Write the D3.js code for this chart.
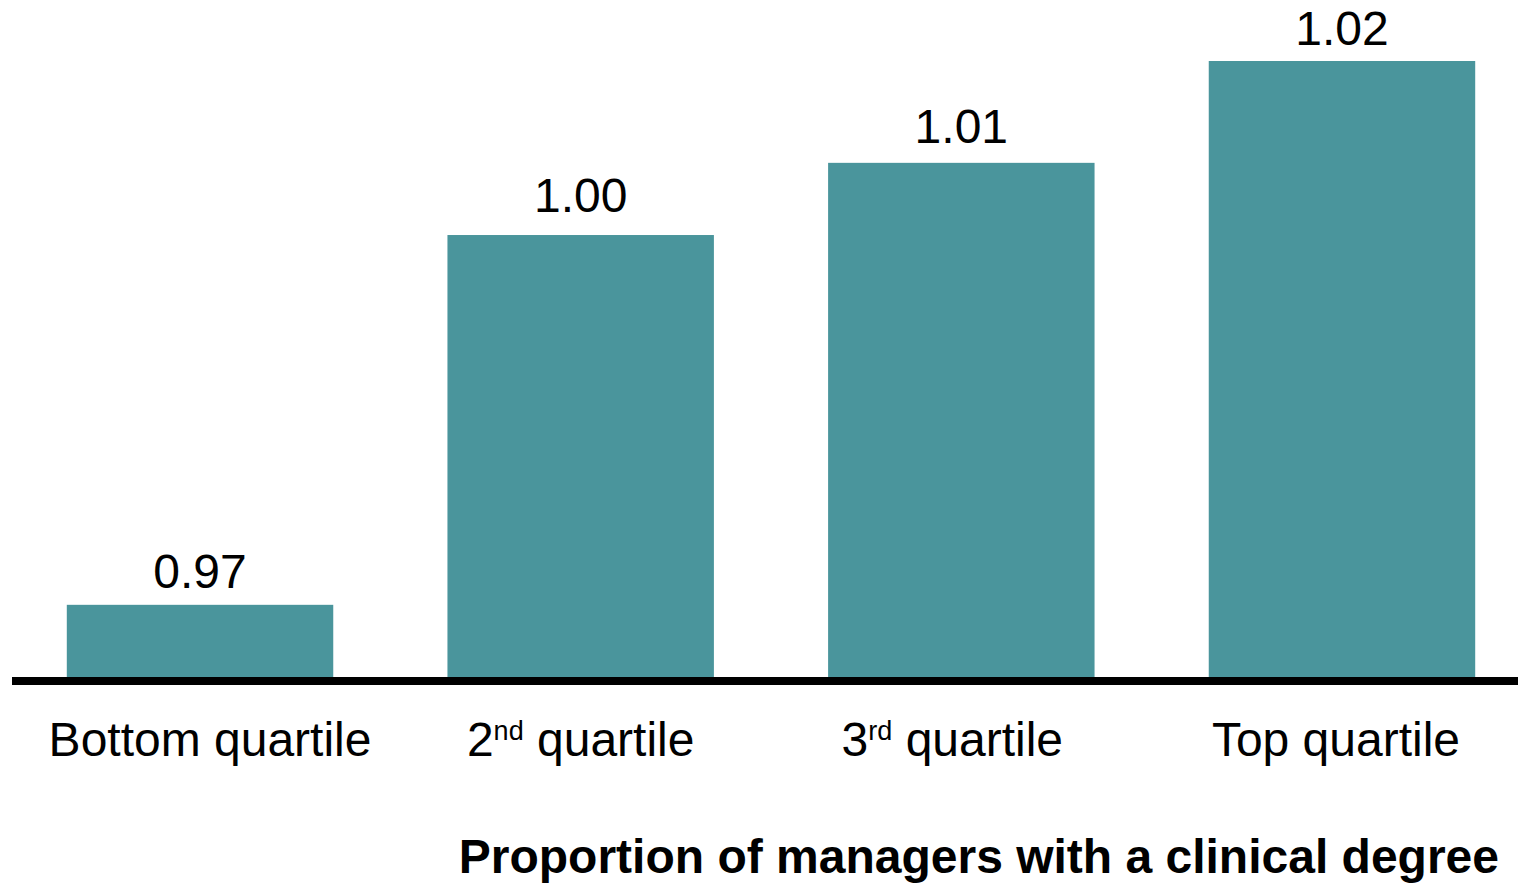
<!DOCTYPE html>
<html>
<head>
<meta charset="utf-8">
<script src="https://cdn.jsdelivr.net/npm/d3@7"></script>
<style>
  html, body { margin: 0; padding: 0; background: #fff; }
  svg { display: block; }
  text { font-family: "Liberation Sans", Arial, Helvetica, sans-serif; fill: #000; }
</style>
</head>
<body>
<svg id="chart" width="1518" height="883"></svg>
<script>
// Data
const categories = ["Bottom quartile", "2nd quartile", "3rd quartile", "Top quartile"];
const catBase = ["Bottom quartile", "2", "3", "Top quartile"];
const catSup = ["", "nd", "rd", ""];
const catRest = ["", " quartile", " quartile", ""];
const values = [0.967, 1.0044, 1.0117, 1.022];
const yDomain = [0.9597, 1.022];
const xTitle = "Proportion of managers with a clinical degree";

// Layout (not data)
const valueGap = [17, 23, 20, 16];
const catDx = [10, 0, -9, -6];

const svg = d3.select("#chart");
const baseY = 677, topY = 61;

const x = d3.scaleBand()
  .domain(categories)
  .range([9.7, 1532.3])
  .paddingInner(0.3)
  .paddingOuter(0.15);

const y = d3.scaleLinear().domain(yDomain).range([baseY, topY]);

const data = categories.map((c, i) => ({ c, i, v: values[i], base: catBase[i], sup: catSup[i], rest: catRest[i] }));

// Bars
svg.append("g").selectAll("rect").data(data).enter().append("rect")
  .attr("x", d => x(d.c))
  .attr("width", x.bandwidth())
  .attr("y", d => y(d.v))
  .attr("height", d => baseY - y(d.v))
  .attr("fill", "#4a959c");

// Value labels
svg.append("g").selectAll("text").data(data).enter().append("text")
  .attr("x", d => x(d.c) + x.bandwidth() / 2)
  .attr("y", d => y(d.v) - valueGap[d.i])
  .attr("text-anchor", "middle")
  .style("font-size", "48px")
  .text(d => d3.format(".2f")(d.v));

// Axis line
svg.append("line")
  .attr("x1", 12).attr("x2", 1518)
  .attr("y1", baseY + 4).attr("y2", baseY + 4)
  .attr("stroke", "#000").attr("stroke-width", 8);

// Category labels
const cl = svg.append("g").selectAll("text").data(data).enter().append("text")
  .attr("x", d => x(d.c) + x.bandwidth() / 2 + catDx[d.i])
  .attr("y", 756)
  .attr("text-anchor", "middle")
  .style("font-size", "48px");
cl.append("tspan").text(d => d.base);
cl.filter(d => d.sup).append("tspan")
  .attr("dy", -16)
  .style("font-size", "27px")
  .text(d => d.sup);
cl.filter(d => d.sup).append("tspan")
  .attr("dy", 16)
  .text(d => d.rest);

// Axis title
svg.append("text")
  .attr("x", 1499)
  .attr("y", 873)
  .attr("text-anchor", "end")
  .style("font-size", "48px")
  .style("font-weight", "bold")
  .text(xTitle);
</script>
</body>
</html>
